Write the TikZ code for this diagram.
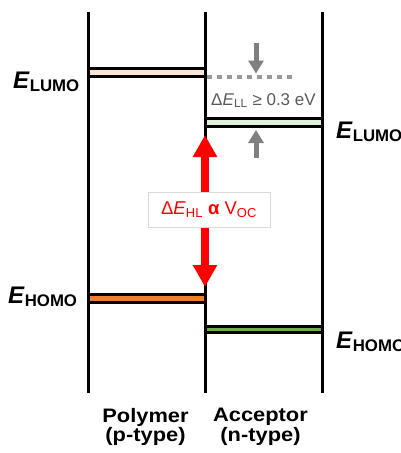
\documentclass[tikz,border=0pt]{standalone}
\usepackage{fontspec}
\setsansfont{Liberation Sans}
\usetikzlibrary{arrows.meta, calc}

\begin{document}
\begin{tikzpicture}[
    x=1pt, y=-1pt,
    every node/.style={font=\sffamily},
]

% ---------------------------------------------------------------- colours
\definecolor{lumopoly}{HTML}{FBE5D6}   % polymer LUMO
\definecolor{lumoacc}{HTML}{E2F0D9}    % acceptor LUMO
\definecolor{homopoly}{HTML}{ED7D31}   % polymer HOMO
\definecolor{homoacc}{HTML}{70AD47}    % acceptor HOMO
\definecolor{gapgray}{HTML}{808080}
\definecolor{dotgray}{HTML}{999999}
\definecolor{textgray}{HTML}{595959}
\definecolor{boxgray}{HTML}{D9D9D9}

\tikzset{
    wall/.style={line width=3pt, black},
    level/.style={rectangle, draw=black, line width=3pt, inner sep=0pt,
                  outer sep=0pt, minimum width=117pt, minimum height=8pt},
    elabel/.style={font=\sffamily\bfseries\fontsize{24}{26}\selectfont,
                   inner sep=0pt, anchor=base west},
    colname/.style={font=\sffamily\bfseries\fontsize{19.5}{19.5}\selectfont
                         \addfontfeature{FakeStretch=1.12},
                    align=center, inner sep=0pt, anchor=north},
    gaparrow/.style={-{Triangle[width=15pt, length=13pt]}, line width=5pt,
                     gapgray},
    hlarrow/.style={{Triangle[width=23pt, length=22pt]}-{Triangle[width=23pt, length=22pt]},
                    line width=8pt, red},
}

\useasboundingbox (0,0) rectangle (401,453);

% ================================================================
% Pixel grid of the figure, y running downwards.
%   walls     x = 88, 205, 322
%   LUMO      y = 72.5 (polymer), 122.5 (acceptor)
%   HOMO      y = 298.5 (polymer), 329.5 (acceptor)
% ================================================================

% ----------------------------------------------------------------------
% walls of the two materials
% ----------------------------------------------------------------------
\foreach \x in {88, 205, 322}
    \draw[wall] (\x, 12) -- (\x, 393);

% ----------------------------------------------------------------------
% energy levels
% ----------------------------------------------------------------------
\node[level, fill=lumopoly] (lumoP) at (146.5, 72.5) {};
\node[level, fill=lumoacc]  (lumoA) at (263.5, 122.5) {};
\node[level, fill=homopoly] (homoP) at (146.5, 298.5) {};
\node[level, fill=homoacc, minimum height=6pt] (homoA) at (263.5, 329.5) {};

\node[elabel] (eLumoP) at (13, 88)  {\textit{E}\textsubscript{LUMO}};
\node[elabel] (eLumoA) at (336, 138) {\textit{E}\textsubscript{LUMO}};
\node[elabel] (eHomoP) at (8, 303)  {\textit{E}\textsubscript{HOMO}};
\node[elabel] (eHomoA) at (336, 348) {\textit{E}\textsubscript{HOMO}};

% ----------------------------------------------------------------------
% LUMO-LUMO offset
% ----------------------------------------------------------------------
\coordinate (vacEnd) at (295, 76.5);
\draw[dotgray, line width=4pt, dash pattern=on 5pt off 5pt]
    ([xshift=2pt]lumoP.south east) -- (vacEnd);

\coordinate (gapTop) at (256, 43);
\coordinate (gapBot) at (256, 158);
\draw[gaparrow, shorten >=3pt] (gapTop) -- (gapTop |- vacEnd);
\draw[gaparrow, shorten >=3.5pt] (gapBot) -- (gapBot |- lumoA.south);

\node[font=\sffamily\fontsize{17}{19}\selectfont, text=textgray,
      anchor=base west, inner sep=0pt] (llText) at (211, 105)
    {Δ\textit{E}\textsubscript{LL} ≥ 0.3 eV};

% ----------------------------------------------------------------------
% HOMO-LUMO gap, open circuit voltage
% ----------------------------------------------------------------------
\draw[hlarrow] ([yshift=-8.5pt]lumoA.south west) -- ([yshift=7.5pt]homoP.north east);

\node[rectangle, fill=white, draw=boxgray, line width=0.6pt,
      minimum width=122pt, minimum height=35pt, text=red,
      font=\sffamily\fontsize{18.5}{20}\selectfont] (hlText) at (209, 209.5)
    {Δ\textit{E}\textsubscript{HL} \textbf{α} V\textsubscript{OC}};

% ----------------------------------------------------------------------
% the two materials
% ----------------------------------------------------------------------
\node[colname] (polyName) at (145.5, 408) {Polymer\\(p-type)};
\node[colname] (accName)  at (260.5, 408) {Acceptor\\(n-type)};

\end{tikzpicture}
\end{document}
